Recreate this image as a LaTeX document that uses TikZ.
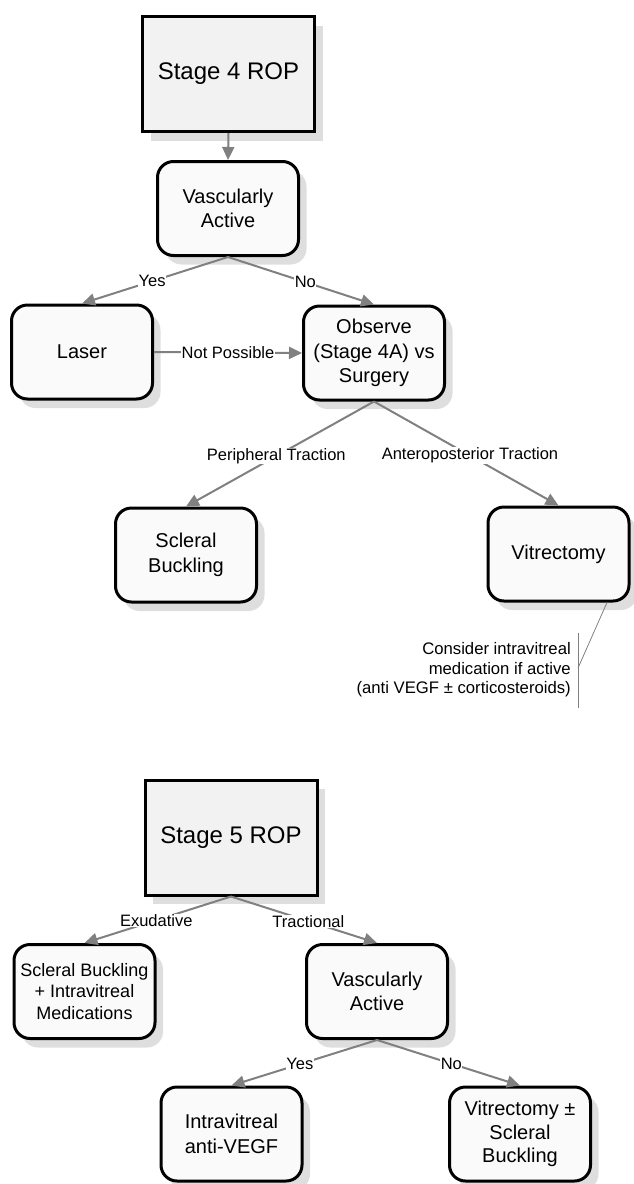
\documentclass[tikz,border=0pt]{standalone}
\usepackage{fontspec}
\setmainfont{Liberation Sans}
\usepackage[HTML]{xcolor}
\usepackage{tikz}
\usetikzlibrary{arrows.meta, shadows}
\definecolor{boxfill}{HTML}{FAFAFA}
\definecolor{stagefill}{HTML}{F2F2F2}
\definecolor{linkgray}{HTML}{808080}
\definecolor{shadowgray}{HTML}{DEDEDE}

\begin{document}
\begin{tikzpicture}[x=1pt, y=-1pt,
  stagebox/.style={draw, line width=3pt, fill=stagefill, minimum width=172pt, minimum height=115pt,
    font=\fontsize{24}{29}\selectfont, drop shadow={shadow xshift=8pt, shadow yshift=-9pt, fill=shadowgray, opacity=1}},
  stepbox/.style={draw, line width=3pt, fill=boxfill, rounded corners=16pt, minimum width=141pt, minimum height=94pt,
    align=center, font=\fontsize{20}{24.5}\selectfont, drop shadow={shadow xshift=8pt, shadow yshift=-9pt, fill=shadowgray, opacity=1}},
  link/.style={draw=linkgray, line width=2pt, -{Triangle[length=13pt,width=12pt]}},
  lbl/.style={fill=white, inner sep=0.5pt, font=\fontsize{16.5}{19}\selectfont, text=black}]
\useasboundingbox (0,0) rectangle (633,1184);

% Stage 4
\node[stagebox] (stage4) at (228.5,74) {Stage 4 ROP};
\node[stepbox] (active4) at (228,208.5) {Vascularly\\Active};
\node[stepbox] (laser) at (82,352) {Laser};
\node[stepbox] (observe) at (374,353) {Observe\\(Stage 4A) vs\\Surgery};
\node[stepbox] (buckle4) at (186,555) {Scleral\\Buckling};
\node[stepbox] (vitrect4) at (558.5,554) {Vitrectomy};

\draw[link] (stage4.south) -- (active4.north);
\draw[link] (active4.south) -- node[lbl, pos=0.52] {Yes} (laser.north);
\draw[link] (active4.south) -- node[lbl, pos=0.53] {No} (observe.north);
\draw[link] (laser.east) -- node[lbl] {Not Possible} (observe.west);
\draw[link] (observe.south) -- node[lbl, pos=0.52] {Peripheral Traction} (buckle4.north);
\draw[link] (observe.south) -- node[lbl, pos=0.52] {Anteroposterior Traction} (vitrect4.north);

% note on vitrectomy
\node[anchor=east, align=right, inner sep=0pt, font=\fontsize{16.7}{19.5}\selectfont] (note) at (571,670)
  {Consider intravitreal\\medication if active\\(anti VEGF ± corticosteroids)};
\coordinate (note top) at (578,633);
\coordinate (note bottom) at (578,708);
\coordinate (note mid) at (578,668);
\draw[linkgray, line width=0.8pt] (note top) -- (note bottom);
\draw[linkgray, line width=0.8pt] (note mid) -- (vitrect4.-45);

% Stage 5
\node[stagebox] (stage5) at (231,837.5) {Stage 5 ROP};
\node[stepbox, font=\fontsize{18}{21.7}\selectfont] (buckle5) at (84.5,991.5) {Scleral Buckling\\+ Intravitreal\\Medications};
\node[stepbox] (active5) at (377,991.5) {Vascularly\\Active};
\node[stepbox] (antivegf) at (231.5,1134) {Intravitreal\\anti-VEGF};
\node[stepbox, font=\fontsize{20}{23.3}\selectfont] (vitrect5) at (520,1134) {Vitrectomy ±\\Scleral\\Buckling};

\draw[link] (stage5.south) -- node[lbl, pos=0.51] {Exudative} (buckle5.north);
\draw[link] (stage5.south) -- node[lbl, pos=0.53] {Tractional} (active5.north);
\draw[link] (active5.south) -- node[lbl, pos=0.53] {Yes} (antivegf.north);
\draw[link] (active5.south) -- node[lbl, pos=0.52] {No} (vitrect5.north);
\end{tikzpicture}
\end{document}
